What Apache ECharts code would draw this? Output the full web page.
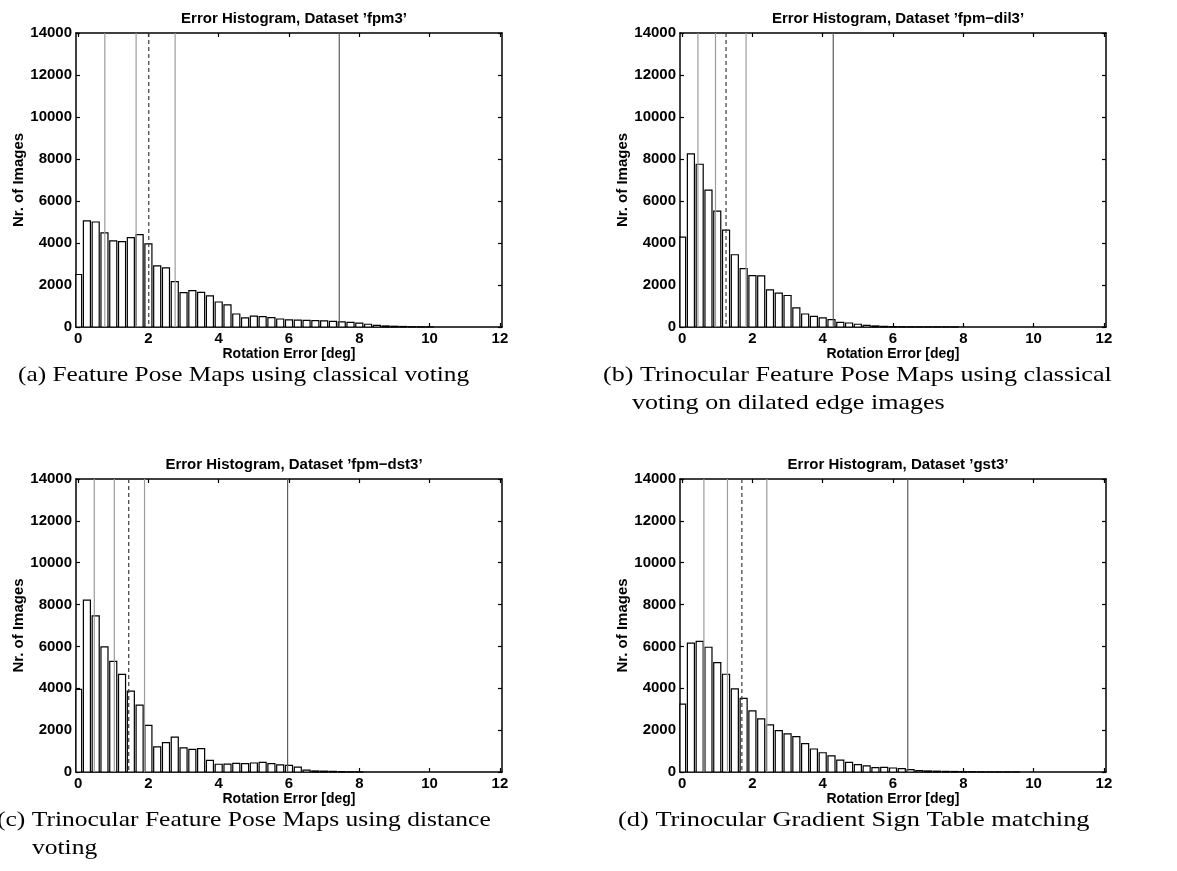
<!DOCTYPE html>
<html>
<head>
<meta charset="utf-8">
<script src="https://cdn.jsdelivr.net/npm/echarts@6/dist/echarts.min.js"></script>
<style>
  html, body { margin: 0; padding: 0; background: #ffffff; }
  #chart { width: 1177px; height: 871px; }
</style>
</head>
<body>
<div id="chart"></div>
<script>
// Histogram bin centres (deg), bin width 0.25
const binCenters = [0, 0.25, 0.5, 0.75, 1, 1.25, 1.5, 1.75, 2, 2.25, 2.5, 2.75, 3, 3.25, 3.5, 3.75,
  4, 4.25, 4.5, 4.75, 5, 5.25, 5.5, 5.75, 6, 6.25, 6.5, 6.75, 7, 7.25, 7.5, 7.75,
  8, 8.25, 8.5, 8.75, 9, 9.25, 9.5, 9.75, 10];

// Image counts per bin for each dataset
const countsFpm3 = [2500, 5050, 5000, 4480, 4100, 4070, 4260, 4400, 3960, 2910, 2820, 2160, 1640, 1730, 1650, 1480,
  1190, 1050, 620, 430, 520, 490, 450, 380, 340, 330, 320, 300, 290, 270, 240, 220,
  180, 130, 80, 50, 35, 25, 15, 10, 5];
const countsFpmDil3 = [4280, 8240, 7750, 6520, 5520, 4610, 3440, 2780, 2450, 2430, 1770, 1610, 1500, 910, 620, 510,
  430, 350, 220, 190, 130, 80, 50, 30, 20, 15, 10, 8, 5, 4, 3, 2,
  0, 0, 0, 0, 0, 0, 0, 0, 0];
const countsFpmDst3 = [3950, 8210, 7460, 5980, 5290, 4660, 3860, 3200, 2230, 1200, 1400, 1670, 1150, 1080, 1120, 560,
  370, 380, 410, 400, 430, 460, 400, 340, 320, 230, 90, 50, 40, 30, 20, 10,
  5, 0, 0, 0, 0, 0, 0, 0, 0];
const countsGst3 = [3240, 6160, 6240, 5960, 5230, 4670, 3970, 3520, 2920, 2540, 2250, 1980, 1820, 1690, 1360, 1100,
  920, 770, 570, 460, 350, 290, 210, 220, 190, 160, 110, 70, 50, 40, 30, 25,
  20, 15, 10, 8, 5, 3, 2, 0, 0];

// Statistic markers (deg): quartiles, mean (dashed) and tail bound
const quartFpm3 = [0.76, 1.65, 2.76];
const quartFpmDil3 = [0.45, 0.95, 1.82];
const quartFpmDst3 = [0.46, 1.03, 1.89];
const quartGst3 = [0.62, 1.29, 2.41];
const meanLines = [2.01, 1.25, 1.44, 1.70];
const tailLines = [7.43, 4.30, 5.96, 6.42];

const datasetNames = ['fpm3', 'fpm\u2212dil3', 'fpm\u2212dst3', 'gst3'];
const xTicks = [0, 2, 4, 6, 8, 10, 12];
const yMin = 0, yMax = 14000, yStep = 2000;
const xTitle = 'Rotation Error [deg]';
const yTitle = 'Nr. of Images';

const captions = [
  ['(a) Feature Pose Maps using classical voting'],
  ['(b) Trinocular Feature Pose Maps using classical', 'voting on dilated edge images'],
  ['(c) Trinocular Feature Pose Maps using distance', 'voting'],
  ['(d) Trinocular Gradient Sign Table matching']
];

const allCounts = [countsFpm3, countsFpmDil3, countsFpmDst3, countsGst3];
const allQuarts = [quartFpm3, quartFpmDil3, quartFpmDst3, quartGst3];

// ---- layout ----
const gridBoxes = [
  { left: 76, top: 33, width: 426, height: 294 },
  { left: 680, top: 33, width: 426, height: 294 },
  { left: 76, top: 479, width: 426, height: 293 },
  { left: 680, top: 479, width: 426, height: 293 }
];
const X_MIN = -0.06, X_MAX = 12.06;
const BAR_HALF = 0.1;          // bar covers 80% of the 0.25 bin
const SANS = "'Liberation Sans', Arial, Helvetica, sans-serif";
const SERIF = "'Liberation Serif', 'Times New Roman', serif";

// caption placement; the serif face is stretched to a wide book-style width
const captionLayout = [
  { x: 18, y: [375], stretch: 1.15 },
  { x: 603, y: [375, 403], indent: 29, stretch: 1.185 },
  { x: -3, y: [820, 848], indent: 35, stretch: 1.16 },
  { x: 618, y: [820], stretch: 1.2 }
];

function renderBar(params, api) {
  const v = api.value(1);
  if (!(v > 0)) return null;
  const c = api.value(0);
  const p0 = api.coord([c - BAR_HALF, v]);
  const p1 = api.coord([c + BAR_HALF, 0]);
  const cs = params.coordSys;
  const rect = echarts.graphic.clipRectByRect(
    { x: p0[0], y: p0[1], width: p1[0] - p0[0], height: p1[1] - p0[1] },
    { x: cs.x, y: cs.y, width: cs.width, height: cs.height }
  );
  if (!rect) return null;
  return {
    type: 'rect',
    shape: rect,
    style: { fill: '#ffffff', stroke: '#000000', lineWidth: 1.2 }
  };
}

const markerStyles = [
  { stroke: '#9c9c9c', lineWidth: 1.2 },
  { stroke: '#3c3c3c', lineWidth: 1.2, lineDash: [4, 3] },
  { stroke: '#5c5c5c', lineWidth: 1.2 }
];

function renderMarker(params, api) {
  const x = api.value(0);
  const kind = api.value(1);
  const top = api.coord([x, yMax]);
  const bot = api.coord([x, yMin]);
  return {
    type: 'line',
    shape: { x1: top[0], y1: top[1], x2: bot[0], y2: bot[1] },
    style: Object.assign({ fill: null }, markerStyles[kind])
  };
}

const grids = [], xAxes = [], yAxes = [], series = [], titles = [], graphics = [];

const axisLineStyle = { color: '#000', width: 1.5 };
const tickStyle = { inside: true, length: 4, lineStyle: { color: '#000', width: 1.2 } };

gridBoxes.forEach((g, i) => {
  grids.push(Object.assign({ containLabel: false }, g));

  // bottom axis with labels and title
  xAxes.push({
    gridIndex: i, type: 'value', position: 'bottom', min: X_MIN, max: X_MAX,
    axisLine: { show: true, onZero: false, lineStyle: axisLineStyle },
    axisTick: Object.assign({ customValues: xTicks }, tickStyle),
    axisLabel: { customValues: xTicks, color: '#000', fontFamily: SANS, fontWeight: 'bold', fontSize: 15, margin: 4,
      formatter: v => String(v) },
    splitLine: { show: false },
    name: xTitle, nameLocation: 'middle', nameGap: 20,
    nameTextStyle: { color: '#000', fontFamily: SANS, fontWeight: 'bold', fontSize: 14 }
  });
  // top frame edge with inward ticks
  xAxes.push({
    gridIndex: i, type: 'value', position: 'top', min: X_MIN, max: X_MAX,
    axisLine: { show: true, onZero: false, lineStyle: axisLineStyle },
    axisTick: Object.assign({ customValues: xTicks }, tickStyle),
    axisLabel: { show: false },
    splitLine: { show: false }
  });
  // left axis with labels and title
  yAxes.push({
    gridIndex: i, type: 'value', position: 'left', min: yMin, max: yMax, interval: yStep,
    axisLine: { show: true, onZero: false, lineStyle: axisLineStyle },
    axisTick: tickStyle,
    axisLabel: { color: '#000', fontFamily: SANS, fontWeight: 'bold', fontSize: 15, margin: 4,
      formatter: v => String(v) },
    splitLine: { show: false },
    name: yTitle, nameLocation: 'middle', nameGap: 47, nameRotate: 90,
    nameTextStyle: { color: '#000', fontFamily: SANS, fontWeight: 'bold', fontSize: 15 }
  });
  // right frame edge with inward ticks
  yAxes.push({
    gridIndex: i, type: 'value', position: 'right', min: yMin, max: yMax, interval: yStep,
    axisLine: { show: true, onZero: false, lineStyle: axisLineStyle },
    axisTick: tickStyle,
    axisLabel: { show: false },
    splitLine: { show: false }
  });

  const counts = allCounts[i];
  series.push({
    type: 'custom',
    name: datasetNames[i],
    xAxisIndex: 2 * i, yAxisIndex: 2 * i,
    renderItem: renderBar,
    data: binCenters.map((c, k) => [c, counts[k]]),
    z: 2,
    silent: true
  });

  const markers = allQuarts[i].map(q => [q, 0]);
  markers.push([meanLines[i], 1]);
  markers.push([tailLines[i], 2]);
  series.push({
    type: 'custom',
    xAxisIndex: 2 * i, yAxisIndex: 2 * i,
    renderItem: renderMarker,
    data: markers,
    z: 3,
    silent: true
  });

  titles.push({
    text: 'Error Histogram, Dataset \u2019' + datasetNames[i] + '\u2019',
    left: g.left + g.width / 2, top: g.top - 27, textAlign: 'center',
    textStyle: { color: '#000', fontFamily: SANS, fontWeight: 'bold', fontSize: 15 }
  });

  const cl = captionLayout[i];
  captions[i].forEach((line, k) => {
    graphics.push({
      type: 'text',
      x: cl.x + (k > 0 ? cl.indent : 0), y: cl.y[k],
      scaleX: cl.stretch,
      style: { text: line, fill: '#000', fontFamily: SERIF, fontSize: 22, verticalAlign: 'middle', align: 'left' },
      silent: true
    });
  });
});

const chart = echarts.init(document.getElementById('chart'), null, { renderer: 'canvas' });
chart.setOption({
  animation: false,
  backgroundColor: '#ffffff',
  title: titles,
  grid: grids,
  xAxis: xAxes,
  yAxis: yAxes,
  series: series,
  graphic: graphics
});
</script>
</body>
</html>
